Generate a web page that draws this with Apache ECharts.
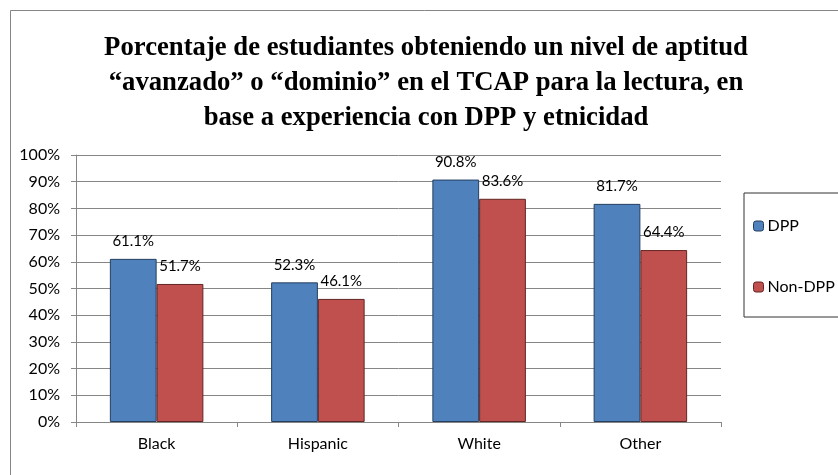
<!DOCTYPE html>
<html>
<head>
<meta charset="utf-8">
<script src="https://cdn.jsdelivr.net/npm/echarts@6/dist/echarts.min.js"></script>
<style>
html,body{margin:0;padding:0;background:#fff;}
#chart{width:838px;height:475px;}
</style>
</head>
<body>
<div id="chart"></div>
<script>
var categories = ['Black', 'Hispanic', 'White', 'Other'];
var dppValues = [61.1, 52.3, 90.8, 81.7];
var nonDppValues = [51.7, 46.1, 83.6, 64.4];
var seriesNames = ['DPP', 'Non-DPP'];
var titleText = 'Porcentaje de estudiantes obteniendo un nivel de aptitud\n\u201cavanzado\u201d o \u201cdominio\u201d en el TCAP para la lectura, en\nbase a experiencia con DPP y etnicidad';

var chart = echarts.init(document.getElementById('chart'));
var labelFont = 'Lato, "Open Sans", sans-serif';
var option = {
  animation: false,
  backgroundColor: '#fff',
  graphic: [{
    type: 'rect',
    shape: {x: 10.5, y: 10.5, width: 1000, height: 1000},
    style: {fill: 'none', stroke: '#868686', lineWidth: 1},
    silent: true
  }],
  title: {
    text: titleText,
    left: 421,
    textAlign: 'center',
    top: 26,
    textStyle: {
      fontFamily: '"Liberation Serif", "Times New Roman", serif',
      fontWeight: 'bold',
      fontSize: 26.7,
      lineHeight: 35,
      color: '#000'
    }
  },
  legend: {
    orient: 'vertical',
    left: 744,
    top: 193,
    padding: [25, 60, 22, 9],
    itemGap: 45,
    itemWidth: 10,
    itemHeight: 10,
    itemStyle: {borderWidth: 1},
    borderColor: '#333',
    borderWidth: 1,
    textStyle: {fontFamily: labelFont, fontSize: 16, color: '#000', padding: [0, 0, 0, -1]},
    data: seriesNames
  },
  grid: {left: 76, right: 117, top: 155, bottom: 53, containLabel: false},
  xAxis: {
    type: 'category',
    data: categories,
    axisLine: {lineStyle: {color: '#868686', width: 1}},
    axisTick: {show: true, length: 5, lineStyle: {color: '#868686'}},
    axisLabel: {fontFamily: labelFont, fontSize: 16, color: '#000', margin: 14}
  },
  yAxis: {
    type: 'value',
    min: 0,
    max: 100,
    interval: 10,
    axisLine: {show: true, lineStyle: {color: '#868686', width: 1}},
    axisTick: {show: true, length: 5, lineStyle: {color: '#868686'}},
    splitLine: {lineStyle: {color: '#868686', width: 1}},
    axisLabel: {fontFamily: labelFont, fontSize: 16, color: '#000', margin: 16, formatter: '{value}%'}
  },
  series: [{
    name: seriesNames[0],
    type: 'bar',
    data: dppValues,
    barGap: '0%',
    barCategoryGap: '42%',
    itemStyle: {color: '#4F81BD', borderColor: '#243F60', borderWidth: 1},
    label: {show: true, position: 'top', distance: 10, fontFamily: labelFont, fontSize: 15, color: '#000',
      formatter: function (p) { return p.value.toFixed(1) + '%'; }}
  }, {
    name: seriesNames[1],
    type: 'bar',
    data: nonDppValues,
    barGap: '0%',
    barCategoryGap: '42%',
    itemStyle: {color: '#C0504D', borderColor: '#632523', borderWidth: 1},
    label: {show: true, position: 'top', distance: 10, fontFamily: labelFont, fontSize: 15, color: '#000',
      formatter: function (p) { return p.value.toFixed(1) + '%'; }}
  }]
};
chart.setOption(option);
</script>
</body>
</html>
